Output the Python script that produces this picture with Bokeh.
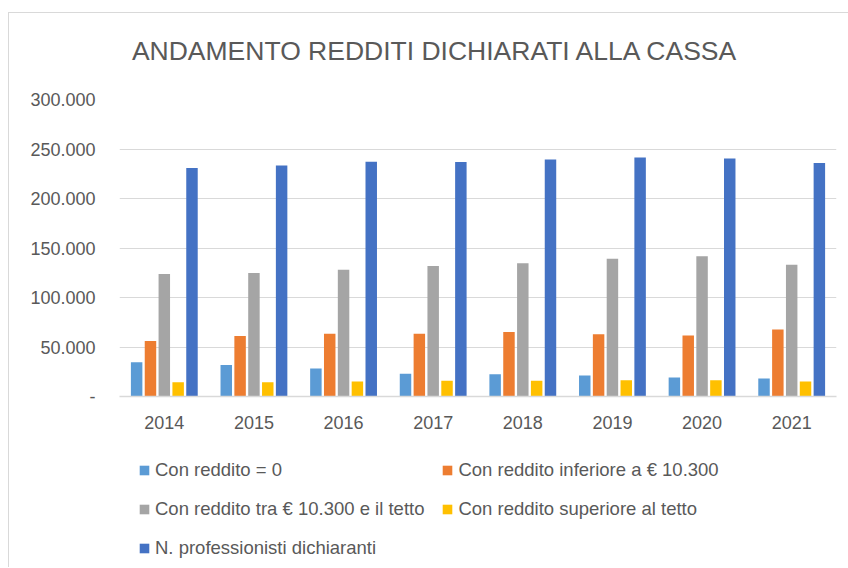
from bokeh.plotting import figure
from bokeh.layouts import column
from bokeh.models import ColumnDataSource, FactorRange, Range1d, FixedTicker, Label
from bokeh.transform import dodge
from bokeh.embed import file_html
from bokeh.resources import INLINE

years = ["2014", "2015", "2016", "2017", "2018", "2019", "2020", "2021"]
reddito_zero = [34500, 31700, 28400, 23000, 22600, 21300, 19300, 18200]
reddito_inferiore = [56000, 61100, 63500, 63500, 65200, 62800, 61500, 67600]
reddito_tra = [123700, 124700, 128000, 131800, 134500, 139200, 141600, 133100]
reddito_superiore = [14500, 14500, 15200, 16000, 15900, 16500, 16500, 15200]
professionisti = [230800, 233400, 237200, 236900, 239500, 241500, 240500, 235800]

series_names = [
    "Con reddito = 0",
    "Con reddito inferiore a € 10.300",
    "Con reddito tra € 10.300 e il tetto",
    "Con reddito superiore al tetto",
    "N. professionisti dichiaranti",
]
series_keys = ["zero", "inf", "tra", "sup", "tot"]
colors = ["#5b9bd5", "#ed7d31", "#a5a5a5", "#ffc000", "#4472c4"]
y_ticks = [0, 50000, 100000, 150000, 200000, 250000, 300000]
y_tick_labels = ["-", "50.000", "100.000", "150.000", "200.000", "250.000", "300.000"]
title_text = "ANDAMENTO REDDITI DICHIARATI ALLA CASSA"

source = ColumnDataSource(dict(
    years=years, zero=reddito_zero, inf=reddito_inferiore,
    tra=reddito_tra, sup=reddito_superiore, tot=professionisti,
))

FONT = "Liberation Sans"
TXT = "#595959"
W = 839


def blank_figure(h, **kw):
    f = figure(width=W, height=h, output_backend="svg", toolbar_location=None,
               x_axis_location=None, y_axis_location=None,
               min_border_left=0, min_border_right=0, min_border_top=0, min_border_bottom=0, **kw)
    f.outline_line_color = None
    f.xgrid.grid_line_color = None
    f.ygrid.grid_line_color = None
    f.background_fill_color = "white"
    f.border_fill_color = "white"
    return f


# title strip
tf = blank_figure(76, x_range=Range1d(0, 1), y_range=Range1d(0, 1))
tf.add_layout(Label(x=316, y=39, x_units="screen", y_units="screen", text=title_text,
                    text_align="center", text_baseline="middle", text_font=FONT,
                    text_font_size="26.5px", text_color=TXT))

# main chart
p = figure(
    x_range=FactorRange(*years), y_range=Range1d(0, 300000),
    width=W, height=351, output_backend="svg", toolbar_location=None,
    min_border_left=110, min_border_right=12, min_border_top=10, min_border_bottom=44,
)
p.background_fill_color = "white"
p.border_fill_color = "white"
p.outline_line_color = None

pitch = 0.1544
width = 0.128
for i, (k, c) in enumerate(zip(series_keys, colors)):
    p.vbar(x=dodge("years", (i - 2) * pitch, range=p.x_range), top=k, width=width,
           source=source, fill_color=c, line_color=None)

p.xgrid.grid_line_color = None
p.ygrid.grid_line_color = "#d9d9d9"
p.ygrid.grid_line_width = 1
p.ygrid.ticker = FixedTicker(ticks=y_ticks)

p.yaxis.ticker = FixedTicker(ticks=y_ticks)
p.yaxis.major_label_overrides = {t: l for t, l in zip(y_ticks, y_tick_labels)}
p.yaxis.axis_line_color = None
p.yaxis.major_tick_line_color = None
p.yaxis.minor_tick_line_color = None
p.yaxis.major_label_standoff = 18
p.yaxis.major_label_text_font = FONT
p.yaxis.major_label_text_font_size = "18px"
p.yaxis.major_label_text_color = TXT

p.xaxis.axis_line_color = "#d9d9d9"
p.xaxis.axis_line_width = 1.5
p.xaxis.major_tick_line_color = None
p.xaxis.minor_tick_line_color = None
p.xaxis.major_label_standoff = 13
p.xaxis.major_label_text_font = FONT
p.xaxis.major_label_text_font_size = "18px"
p.xaxis.major_label_text_color = TXT

# legend strip: hidden copies of the series provide the legend swatches
pl = blank_figure(127, x_range=FactorRange(*years), y_range=Range1d(0, 300000))
for i, (k, name, c) in enumerate(zip(series_keys, series_names, colors)):
    pl.vbar(x=dodge("years", (i - 2) * pitch, range=pl.x_range), top=k, width=width,
            source=source, fill_color=c, line_color=None, legend_label=name, visible=False)

lg = pl.legend[0]
lg.orientation = "horizontal"
lg.ncols = 2
lg.location = (19, 8)
lg.padding = 0
lg.margin = 0
lg.border_line_color = None
lg.background_fill_alpha = 0
lg.inactive_fill_alpha = 0
lg.glyph_width = 12
lg.glyph_height = 12
lg.label_standoff = 5
lg.label_width = 262
lg.label_height = 20
lg.spacing = 17
lg.label_text_font = FONT
lg.label_text_font_size = "18.5px"
lg.label_text_color = TXT

layout = column(tf, p, pl, spacing=0)
layout.styles = {"margin-left": "8px", "margin-top": "12px",
                 "border-left": "1px solid #d9d9d9", "border-top": "1px solid #d9d9d9"}

open("out.html", "w").write(file_html(layout, INLINE))
